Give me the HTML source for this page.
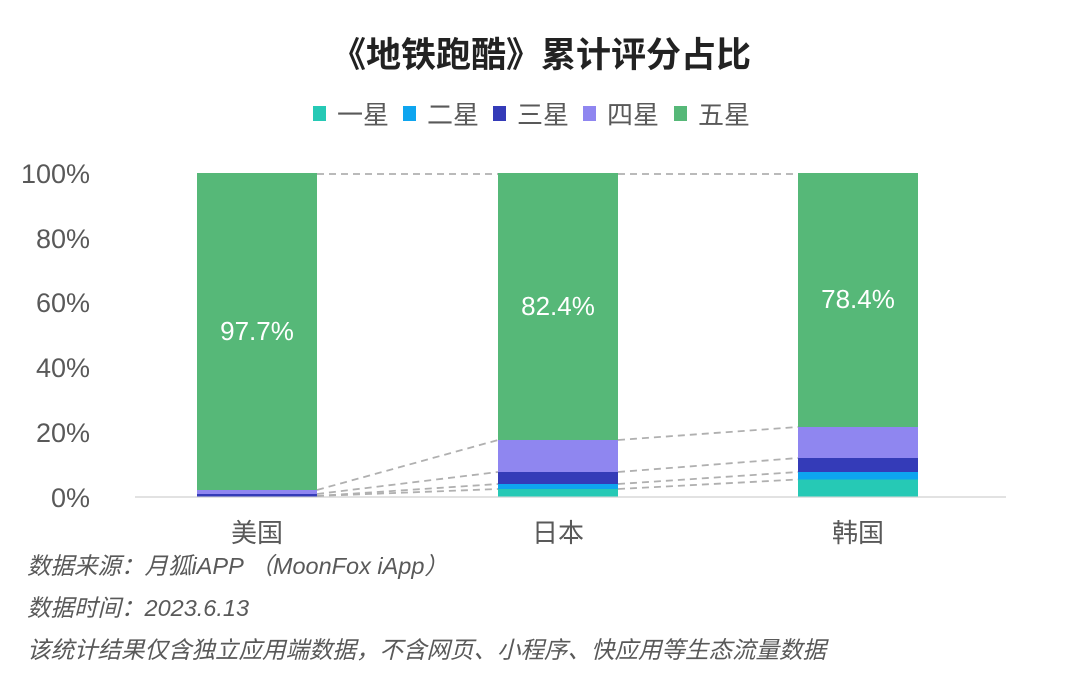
<!DOCTYPE html>
<html><head><meta charset="utf-8"><style>
body{margin:0;background:#fff;width:1080px;height:670px;overflow:hidden;font-family:"Liberation Sans","Noto Sans CJK SC",sans-serif}
</style></head><body>
<svg width="1080" height="670" xmlns="http://www.w3.org/2000/svg" style="font-family:'Liberation Sans','Noto Sans CJK SC',sans-serif">
<text x="541" y="67" text-anchor="middle" font-size="35" font-weight="bold" fill="#222">《地铁跑酷》累计评分占比</text>
<g font-size="26" fill="#595959">
<rect x="313" y="106" width="13" height="15" fill="#26c9b5"/><text x="337" y="124">一星</text>
<rect x="403" y="106" width="13" height="15" fill="#0ea5ef"/><text x="427" y="124">二星</text>
<rect x="493" y="106" width="13" height="15" fill="#343bb8"/><text x="517" y="124">三星</text>
<rect x="583" y="106" width="13" height="15" fill="#8f86f0"/><text x="607" y="124">四星</text>
<rect x="674" y="106" width="13" height="15" fill="#56b878"/><text x="698" y="124">五星</text>
</g>
<g font-size="27" fill="#595959" text-anchor="end">
<text x="90" y="183">100%</text><text x="90" y="248">80%</text><text x="90" y="312">60%</text>
<text x="90" y="377">40%</text><text x="90" y="442">20%</text><text x="90" y="507">0%</text>
</g>
<line x1="135" y1="497" x2="1006" y2="497" stroke="#d9d9d9" stroke-width="1.5"/>
<rect x="197" y="173" width="120" height="317" fill="#56b878"/>
<rect x="197" y="490" width="120" height="4" fill="#8f86f0"/>
<rect x="197" y="494" width="120" height="2.5" fill="#343bb8"/>
<rect x="498" y="173" width="120" height="267" fill="#56b878"/>
<rect x="498" y="440" width="120" height="32" fill="#8f86f0"/>
<rect x="498" y="472" width="120" height="12" fill="#343bb8"/>
<rect x="498" y="484" width="120" height="5" fill="#0ea5ef"/>
<rect x="498" y="489" width="120" height="7.5" fill="#26c9b5"/>
<rect x="798" y="173" width="120" height="254" fill="#56b878"/>
<rect x="798" y="427" width="120" height="31" fill="#8f86f0"/>
<rect x="798" y="458" width="120" height="14" fill="#343bb8"/>
<rect x="798" y="472" width="120" height="7.5" fill="#0ea5ef"/>
<rect x="798" y="479.5" width="120" height="17" fill="#26c9b5"/>
<g stroke="#b0b0b0" stroke-width="1.8" stroke-dasharray="7,5" fill="none">
<line x1="317" y1="174" x2="498" y2="174"/><line x1="618" y1="174" x2="798" y2="174"/>
<line x1="317" y1="490" x2="498" y2="440"/><line x1="317" y1="494" x2="498" y2="472"/>
<line x1="317" y1="496" x2="498" y2="484"/><line x1="317" y1="496" x2="498" y2="489"/>
<line x1="618" y1="440" x2="798" y2="427"/><line x1="618" y1="472" x2="798" y2="458"/>
<line x1="618" y1="484" x2="798" y2="472"/><line x1="618" y1="489" x2="798" y2="479.5"/>
</g>
<g font-size="26" fill="#fff" text-anchor="middle">
<text x="257" y="340">97.7%</text><text x="558" y="315">82.4%</text><text x="858" y="308">78.4%</text>
</g>
<g font-size="26" fill="#595959" text-anchor="middle">
<text x="257" y="542">美国</text><text x="558" y="542">日本</text><text x="858" y="542">韩国</text>
</g>
<g font-size="23.5" fill="#595959" font-style="italic">
<text x="27" y="574">数据来源：月狐iAPP （MoonFox iApp）</text>
<text x="27" y="616">数据时间：2023.6.13</text>
<text x="27" y="658">该统计结果仅含独立应用端数据，不含网页、小程序、快应用等生态流量数据</text>
</g>
</svg>
</body></html>
